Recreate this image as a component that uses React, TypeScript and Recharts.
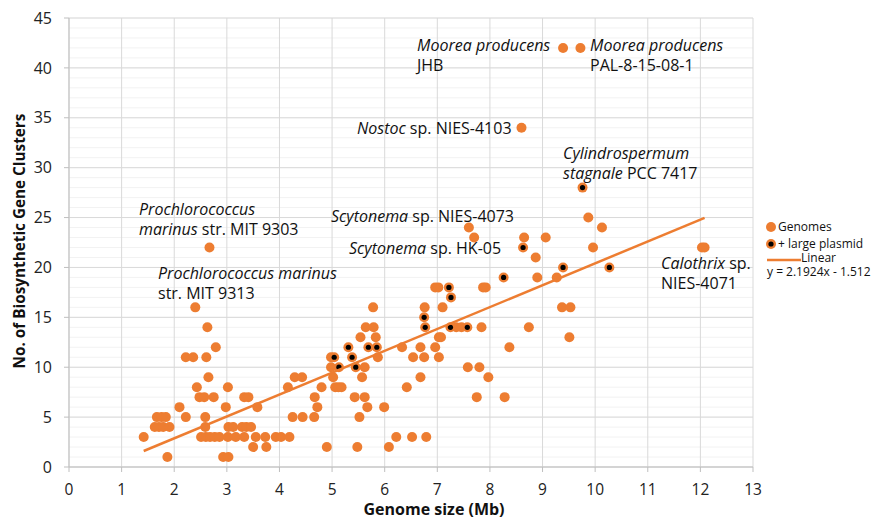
import { ScatterChart, Scatter, XAxis, YAxis, CartesianGrid } from "recharts";

// genome size (Mb), number of BGCs
const genomes: [number, number][] = [
  [1.87, 1], [2.93, 1], [3.03, 1],
  [3.5, 2], [3.75, 2], [4.9, 2], [5.48, 2], [6.08, 2],
  [1.42, 3], [2.51, 3], [2.6, 3], [2.68, 3], [2.77, 3], [2.86, 3], [3.02, 3], [3.17, 3],
  [3.33, 3], [3.55, 3], [3.73, 3], [3.93, 3], [4.03, 3], [4.19, 3], [6.22, 3], [6.52, 3], [6.79, 3],
  [1.63, 4], [1.71, 4], [1.79, 4], [1.91, 4], [2.59, 4], [3.03, 4], [3.12, 4], [3.29, 4], [3.37, 4], [3.46, 4],
  [1.67, 5], [1.76, 5], [1.84, 5], [2.22, 5], [2.59, 5], [4.25, 5], [4.44, 5], [4.66, 5], [5.52, 5],
  [2.1, 6], [2.98, 6], [3.58, 6], [4.72, 6], [5.67, 6], [5.99, 6],
  [2.48, 7], [2.57, 7], [2.75, 7], [3.33, 7], [3.41, 7], [4.67, 7], [5.43, 7], [5.62, 7], [7.75, 7], [8.28, 7],
  [2.43, 8], [3.02, 8], [4.16, 8], [4.8, 8], [5.06, 8], [5.12, 8], [5.18, 8], [6.42, 8],
  [2.65, 9], [4.29, 9], [4.43, 9], [5.02, 9], [5.57, 9], [6.68, 9], [7.97, 9],
  [4.98, 10], [5.62, 10], [7.58, 10], [7.8, 10],
  [2.22, 11], [2.36, 11], [2.61, 11], [4.98, 11], [5.87, 11], [6.54, 11], [6.75, 11], [7.03, 11],
  [2.79, 12], [6.33, 12], [6.68, 12], [6.96, 12], [8.37, 12],
  [5.54, 13], [5.83, 13], [7.03, 13], [7.07, 13], [9.51, 13],
  [2.63, 14], [5.64, 14], [5.79, 14], [7.36, 14], [7.46, 14], [7.84, 14], [8.74, 14],
  [2.4, 16], [5.78, 16], [6.76, 16], [7.1, 16], [9.37, 16], [9.53, 16],
  [6.96, 18], [7.02, 18], [7.87, 18], [7.92, 18],
  [8.9, 19], [9.27, 19],
  [8.87, 21],
  [2.67, 22], [9.96, 22], [12.03, 22], [12.08, 22],
  [7.7, 23], [8.65, 23], [9.06, 23],
  [7.6, 24], [10.13, 24],
  [9.87, 25],
  [8.6, 34],
  [9.39, 42], [9.72, 42],
];

const plasmidGenomes: [number, number][] = [
  [5.13, 10], [5.45, 10], [5.04, 11], [5.38, 11], [5.31, 12], [5.69, 12], [5.85, 12],
  [6.77, 14], [7.25, 14], [7.57, 14], [6.75, 15], [7.26, 17], [7.22, 18],
  [8.26, 19], [9.39, 20], [10.27, 20], [8.63, 22], [9.76, 28],
];

const slope = 2.1924;
const intercept = -1.512;
const trendRange = [1.42, 12.08];

const xTicks = [0, 1, 2, 3, 4, 5, 6, 7, 8, 9, 10, 11, 12, 13];
const yTicks = [0, 5, 10, 15, 20, 25, 30, 35, 40, 45];
const yMinor = Array.from({ length: 46 }, (_, i) => i);

const ORANGE = "#ED7D31";
const FONT = "'Open Sans', sans-serif";

const genomeData = genomes.map(([x, y]) => ({ x, y }));
const plasmidData = plasmidGenomes.map(([x, y]) => ({ x, y }));
const trendData = trendRange.map((x) => ({ x, y: slope * x + intercept }));

const Dot = (p: any) => <circle cx={p.cx} cy={p.cy} r={5} fill={ORANGE} />;
const PlasmidDot = (p: any) => (
  <g>
    <circle cx={p.cx} cy={p.cy} r={5} fill={ORANGE} />
    <circle cx={p.cx} cy={p.cy} r={2.6} fill="#000" />
  </g>
);

const annotations = [
  { left: 417, top: 35, lines: [[["Moorea producens", true]], [["JHB", false]]] },
  { left: 590, top: 35, lines: [[["Moorea producens", true]], [["PAL-8-15-08-1", false]]] },
  { left: 357, top: 118, lines: [[["Nostoc", true], [" sp. NIES-4103", false]]] },
  { left: 563, top: 143, lines: [[["Cylindrospermum", true]], [["stagnale", true], [" PCC 7417", false]]] },
  { left: 139, top: 199, lines: [[["Prochlorococcus", true]], [["marinus", true], [" str. MIT 9303", false]]] },
  { left: 331, top: 206, lines: [[["Scytonema", true], [" sp. NIES-4073", false]]] },
  { left: 349, top: 238, lines: [[["Scytonema", true], [" sp. HK-05", false]]] },
  { left: 158, top: 263, lines: [[["Prochlorococcus marinus", true]], [["str. MIT 9313", false]]] },
  { left: 661, top: 253, lines: [[["Calothrix", true], [" sp.", false]], [["NIES-4071", false]]] },
] as { left: number; top: number; lines: [string, boolean][][] }[];

const abs = (left: number, top: number): React.CSSProperties => ({
  position: "absolute",
  left,
  top,
  whiteSpace: "nowrap",
});

export default function App() {
  return (
    <div style={{ position: "relative", width: 880, height: 518, background: "#fff", fontFamily: FONT, overflow: "hidden" }}>
      <style>{`body{margin:0}`}</style>
      <ScatterChart width={880} height={518} margin={{ top: 18, right: 127, left: 19, bottom: 21 }}>
        <CartesianGrid horizontalValues={yMinor} vertical={false} stroke="#f2f2f2" strokeWidth={1} />
        <CartesianGrid horizontalValues={yTicks} verticalValues={xTicks} stroke="#d9d9d9" strokeWidth={1} />
        <XAxis
          type="number"
          dataKey="x"
          domain={[0, 13]}
          ticks={xTicks}
          interval={0}
          height={30}
          stroke="#bfbfbf"
          tickSize={5}
          tick={{ fill: "#222", fontSize: 15.5, fontFamily: FONT }}
          tickMargin={12}
        />
        <YAxis
          type="number"
          dataKey="y"
          domain={[0, 45]}
          ticks={yTicks}
          interval={0}
          width={50}
          stroke="#bfbfbf"
          tickSize={5}
          tick={{ fill: "#222", fontSize: 16, fontFamily: FONT }}
          tickMargin={12}
        />
        <Scatter name="Genomes" data={genomeData} shape={Dot} isAnimationActive={false} />
        <Scatter name="+ large plasmid" data={plasmidData} shape={PlasmidDot} isAnimationActive={false} />
        <Scatter
          name="Linear"
          data={trendData}
          line={{ stroke: ORANGE, strokeWidth: 2.5 }}
          lineType="joint"
          shape={() => null}
          isAnimationActive={false}
        />
      </ScatterChart>

      {annotations.map((a, i) => (
        <div
          key={i}
          style={{ ...abs(a.left, a.top), fontSize: 16, lineHeight: "20px", color: "#111" }}
        >
          {a.lines.map((line, j) => (
            <div key={j}>
              {line.map(([t, it], k) => (
                <span key={k} style={{ fontStyle: it ? "italic" : "normal" }}>{t}</span>
              ))}
            </div>
          ))}
        </div>
      ))}

      {/* legend */}
      <div style={{ fontSize: 12, lineHeight: "12px", color: "#111" }}>
        <svg width={12} height={12} style={abs(765, 221)}><circle cx={6} cy={6} r={5} fill={ORANGE} /></svg>
        <div style={abs(778, 221)}>Genomes</div>
        <svg width={12} height={12} style={abs(765, 237.5)}>
          <circle cx={6} cy={6} r={5} fill={ORANGE} />
          <circle cx={6} cy={6} r={2.6} fill="#000" />
        </svg>
        <div style={abs(778, 237.5)}>+ large plasmid</div>
        <svg width={36} height={6} style={abs(766, 257)}>
          <line x1={1} y1={3} x2={35} y2={3} stroke={ORANGE} strokeWidth={2.5} />
        </svg>
        <div style={abs(801, 251.5)}>Linear</div>
        <div style={abs(767, 266)}>y = 2.1924x - 1.512</div>
      </div>

      <div style={{ ...abs(434, 502), transform: "translateX(-50%)", lineHeight: "15px", fontWeight: "bold", fontSize: 16, color: "#111" }}>
        Genome size (Mb)
      </div>
      <div
        style={{
          ...abs(19, 241),
          transform: "translate(-50%, -50%) rotate(-90deg)",
          lineHeight: "16px",
          fontWeight: "bold",
          fontSize: 15.3,
          color: "#111",
        }}
      >
        No. of Biosynthetic Gene Clusters
      </div>
    </div>
  );
}
